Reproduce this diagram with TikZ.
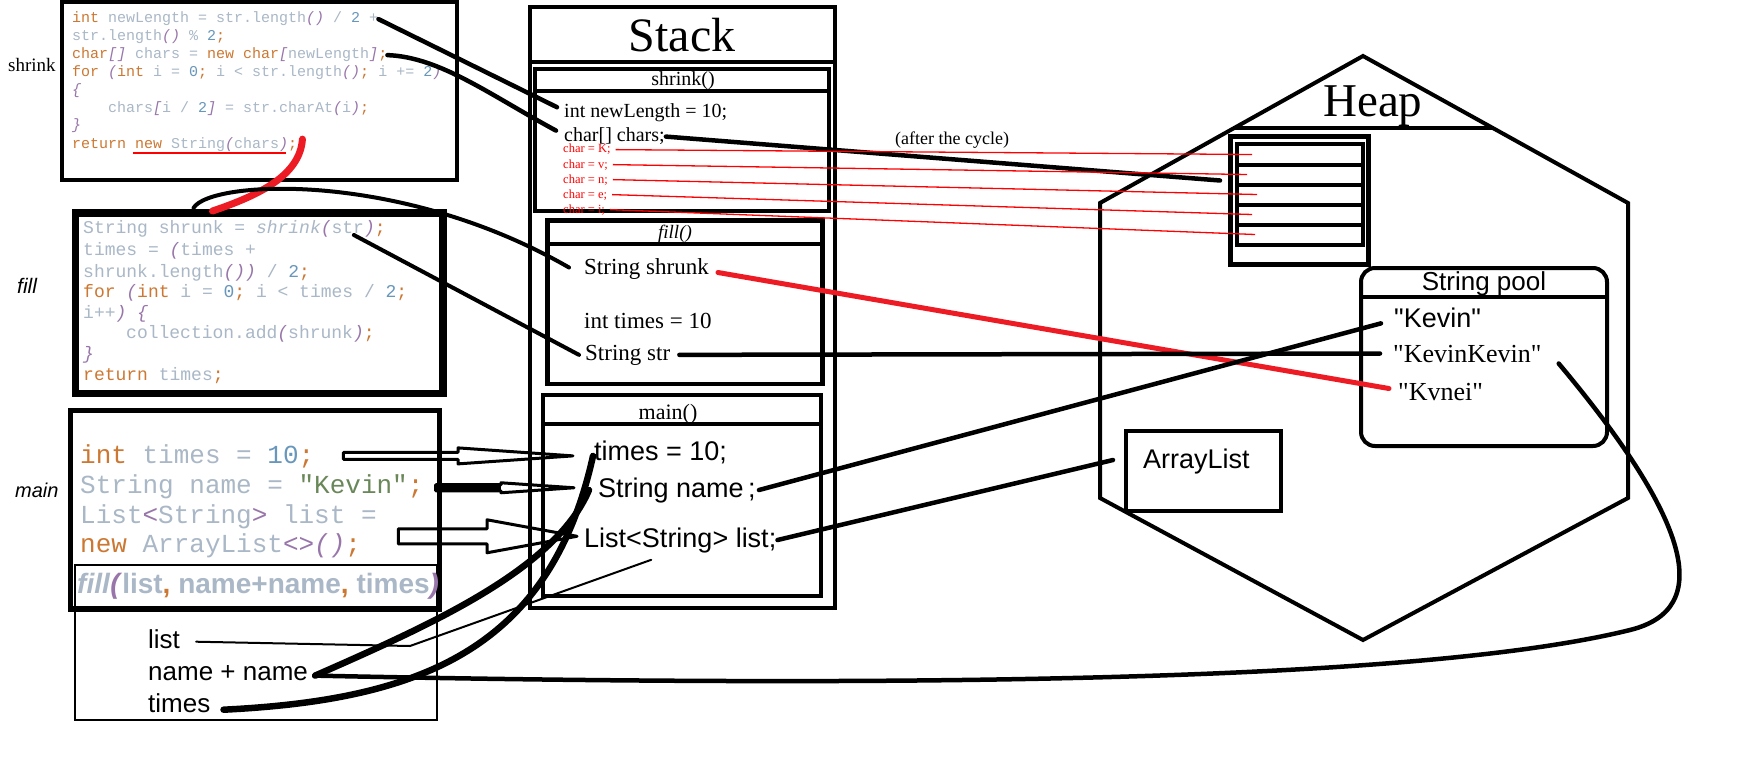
\documentclass[tikz,border=0pt]{standalone}
\usepackage{fontspec}
\setmainfont{Liberation Serif}
\setsansfont{Liberation Sans}
\setmonofont{Liberation Mono}
\usetikzlibrary{calc}

\definecolor{kwc}{HTML}{CC7832}
\definecolor{idc}{HTML}{A9B7C6}
\definecolor{nmc}{HTML}{6897BB}
\definecolor{stc}{HTML}{6A8759}
\definecolor{pac}{HTML}{9876AA}
\definecolor{paintred}{HTML}{ED1C24}

\newcommand\sz[1]{\fontsize{#1}{#1}\selectfont}
\newcommand\kw[1]{\textcolor{kwc}{#1}}
\newcommand\idf[1]{\textcolor{idc}{#1}}
\newcommand\nm[1]{\textcolor{nmc}{#1}}
\newcommand\stl[1]{\textcolor{stc}{#1}}
\newcommand\pa[1]{\textcolor{pac}{\textit{#1}}}
\newcommand\qt[1]{\textquotedbl#1\textquotedbl}

% start, tip, shaft half height, head half height, head length
\newcommand\hollowarrow[5]{%
  \coordinate (ht) at (#2 |- #1);
  \draw[hollowline] ($(#1)+(0,#3)$) -- ($(ht)+(-#5,#3)$) -- ($(ht)+(-#5,#4)$) -- (ht)
    -- ($(ht)+(-#5,-#4)$) -- ($(ht)+(-#5,-#3)$) -- ($(#1)+(0,-#3)$) -- cycle;}

\tikzset{
  box/.style={draw, outer sep=0pt, inner sep=0pt, anchor=north west},
  txt/.style={inner sep=1pt, anchor=base west},
  ctr/.style={inner sep=1pt, anchor=base},
  scode/.style={txt, inner sep=0pt, font=\ttfamily\sz{15}},
  fcode/.style={txt, inner sep=0pt, font=\ttfamily\sz{18}},
  mcode/.style={txt, inner sep=0pt, font=\ttfamily\sz{26}},
  link/.style={draw=black, line width=4.5pt, line cap=round},
  redlink/.style={draw=paintred, line width=5pt, line cap=round},
  thinred/.style={draw=red, line width=1.3pt},
  hollowline/.style={draw=black, line width=3pt, line join=round},
}

\begin{document}
\begin{tikzpicture}[x=1pt, y=-1pt]
  \useasboundingbox (0,0) rectangle (1748,757);
  \fill[white] (0,0) rectangle (1748,757);

  % code of shrink
  \node[box, line width=4pt, minimum width=395pt, minimum height=178pt] (shrinkbox) at (62,2) {};
  \node[txt, font=\rmfamily\sz{19}] (shrinklbl) at (7,72) {shrink};
  \node[scode] (s1) at (72,23) {\kw{int} \idf{newLength = str.length}\pa{()} \idf{/} \nm{2} \idf{+}};
  \node[scode] (s2) at (72,41) {\idf{str.length}\pa{()} \idf{\%} \nm{2}\kw{;}};
  \node[scode] (s3) at (72,59) {\kw{char}\pa{[]} \idf{chars =} \kw{new char}\pa{[}\idf{newLength}\pa{]}\kw{;}};
  \node[scode] (s4) at (72,77) {\kw{for} \pa{(}\kw{int} \idf{i =} \nm{0}\kw{;} \idf{i < str.length}\pa{()}\kw{;} \idf{i +=} \nm{2}\pa{)}};
  \node[scode] (s5) at (72,95) {\pa{\{}};
  \node[scode] (s6) at (108,113) {\idf{chars}\pa{[}\idf{i /} \nm{2}\pa{]} \idf{= str.charAt}\pa{(}\idf{i}\pa{)}\kw{;}};
  \node[scode] (s7) at (72,130) {\pa{\}}};
  \node[scode] (s8) at (72,149) {\kw{return new} \idf{String}\pa{(}\idf{chars}\pa{)}\kw{;}};

  % code of fill
  \node[box, line width=7.5pt, minimum width=367.5pt, minimum height=180.5pt] (fillbox) at (75.5,213) {};
  \node[txt, font=\sffamily\itshape\sz{21}] (filllbl) at (16,293) {fill};
  \node[fcode] (f1) at (83,233) {\idf{String shrunk =} \idf{\textit{shrink}}\pa{(}\idf{str}\pa{)}\kw{;}};
  \node[fcode] (f2) at (83,255) {\idf{times =} \pa{(}\idf{times +}};
  \node[fcode] (f3) at (83,277) {\idf{shrunk.length}\pa{())} \idf{/} \nm{2}\kw{;}};
  \node[fcode] (f4) at (83,297) {\kw{for} \pa{(}\kw{int} \idf{i =} \nm{0}\kw{;} \idf{i < times /} \nm{2}\kw{;}};
  \node[fcode] (f5) at (83,318) {\idf{i++}\pa{)} \pa{\{}};
  \node[fcode] (f6) at (126,338) {\idf{collection.add}\pa{(}\idf{shrunk}\pa{)}\kw{;}};
  \node[fcode] (f7) at (83,359) {\pa{\}}};
  \node[fcode] (f8) at (83,380) {\kw{return} \idf{times}\kw{;}};

  % code of main
  \node[box, line width=1.3pt, minimum width=362pt, minimum height=155pt] (callbox) at (75,565) {};
  \node[box, line width=5.5pt, minimum width=369pt, minimum height=198.5pt] (mainbox) at (70.5,410.5) {};
  \node[txt, font=\sffamily\itshape\sz{20}] (mainlbl) at (14,497) {main};
  \node[mcode] (m1) at (80,463) {\kw{int} \idf{times =} \nm{10}\kw{;}};
  \node[mcode] (m2) at (80,493) {\idf{String name =} \stl{"Kevin"}\kw{;}};
  \node[mcode] (m3) at (80,523) {\idf{List}\textcolor{pac}{<}\idf{String}\textcolor{pac}{>} \idf{list =}};
  \node[mcode] (m4) at (80,552) {\kw{new} \idf{ArrayList}\textcolor{pac}{<>}\pa{()}\kw{;}};
  \node[txt, inner sep=0pt, font=\sffamily\bfseries\sz{28}] (call) at (77,593)
    {\idf{\textit{fill}}\pa{(}\idf{list}\kw{,} \idf{name+name}\kw{,} \idf{times}\pa{)}};
  \node[txt, font=\sffamily\sz{26}] (llist) at (147,648) {list};
  \node[txt, font=\sffamily\sz{26}] (lname) at (147,680) {name + name};
  \node[txt, font=\sffamily\sz{26}] (ltimes) at (147,712) {times};

  % stack
  \node[box, line width=4pt, minimum width=305pt, minimum height=601pt] (stack) at (530,7) {};
  \draw[line width=4pt] ($(stack.north west)+(0,55)$) -- ($(stack.north east)+(0,55)$);
  \node[ctr, font=\rmfamily\sz{48}] (stacklbl) at (682,52) {Stack};

  \node[box, line width=4pt, minimum width=294pt, minimum height=142pt] (shrinkfr) at (535,69) {};
  \draw[line width=4pt] ($(shrinkfr.north west)+(0,22.5)$) -- ($(shrinkfr.north east)+(0,22.5)$);
  \node[ctr, font=\rmfamily\sz{20}] (shrinkhd) at (683,86) {shrink()};
  \node[txt, font=\rmfamily\sz{20}] (nlen) at (563,118) {int newLength = 10;};
  \node[txt, font=\rmfamily\sz{20}] (chars) at (563,142) {char[] chars;};
  \foreach \c [count=\i] in {K,v,n,e,i}
    \node[txt, text=red, font=\rmfamily\sz{12.5}] (ch\i) at (562,138+15*\i) {char = \c;};

  \node[box, line width=4.5pt, minimum width=275pt, minimum height=163.5pt] (fillfr) at (547.5,220.5) {};
  \draw[line width=4.5pt] ($(fillfr.north west)+(0,23.5)$) -- ($(fillfr.north east)+(0,23.5)$);
  \node[ctr, font=\rmfamily\itshape\sz{19}] (fillhd) at (675,238) {fill()};
  \node[txt, font=\rmfamily\sz{23}] (fshr) at (583,274) {String shrunk};
  \node[txt, font=\rmfamily\sz{23}] (ftimes) at (583,328) {int times = 10};
  \node[txt, font=\rmfamily\sz{23}] (fstr) at (584,360) {String str};

  \node[box, line width=4pt, minimum width=277.5pt, minimum height=201pt] (mainfr) at (543,395) {};
  \draw[line width=4pt] ($(mainfr.north west)+(0,28.5)$) -- ($(mainfr.north east)+(0,28.5)$);
  \node[ctr, font=\rmfamily\sz{22}] (mainhd) at (668,419) {main()};
  \node[txt, font=\sffamily\sz{27}] (mtimes) at (593,460) {times = 10;};
  \node[txt, font=\sffamily\sz{27}] (mname) at (597,497) {String name\,;};
  \node[txt, font=\sffamily\sz{27}] (mlist) at (583,547) {List<String> list;};

  % heap
  \draw[line width=4pt] (1363,56) -- (1628,203) -- (1628,498) -- (1363,640) -- (1100,498) -- (1100,203) -- cycle;
  \draw[line width=4pt] (1233,128) -- (1494,128);
  \node[txt, font=\rmfamily\sz{47}] (heaplbl) at (1322,117) {Heap};
  \node[txt, font=\rmfamily\sz{18}] (cyc) at (894,145) {(after the cycle)};

  \node[box, line width=5pt, minimum width=138pt, minimum height=127pt] (charbox) at (1230,137) {};
  \foreach \i in {1,...,5}
    \node[box, line width=4pt, minimum width=126pt, minimum height=20pt] (c\i) at (1237,124.5+20*\i) {};

  \node[box, line width=4pt, rounded corners=14pt, minimum width=246pt, minimum height=178pt] (pool) at (1361,268) {};
  \draw[line width=4pt] ($(pool.north west)+(0,29)$) -- ($(pool.north east)+(0,29)$);
  \node[ctr, font=\sffamily\sz{26}] (poollbl) at (1484,290) {String pool};
  \node[txt, font=\sffamily\sz{27}] (kevin) at (1393,327) {\qt{Kevin}};
  \node[txt, font=\rmfamily\sz{26}] (kk) at (1392,362) {\qt{KevinKevin}};
  \node[txt, font=\rmfamily\sz{26}] (kvnei) at (1397,400) {\qt{Kvnei}};

  \node[box, line width=4.5pt, minimum width=155pt, minimum height=80pt] (arrbox) at (1126,431) {};
  \node[txt, font=\sffamily\sz{27}] (arr) at (1142,468) {ArrayList};

  % shrink code to shrink()
  \draw[link] (s1.east) -- ($(nlen.west)+(-6,-6)$);
  \draw[link] (s3.east) .. controls (440,57) and (490,95) .. ($(chars.west)+(-7,-6)$);
  \draw[link] (chars.east) -- ($(c2.west)+(-17,6)$);
  \foreach \i/\dx in {1/15,2/10,3/20,4/15,5/18}
    \draw[thinred] ($(ch\i.east)+(4,0)$) -- ($(c\i.west)+(\dx,0)$);
  \draw[thinred] ($(s8.base west)+(61,4)$) -- ($(s8.base west)+(214,4)$);
  \draw[redlink, line width=7pt] ($(s8.east)+(5,-6)$) .. controls (300,175) and (260,195) .. ($(fillbox.north west)+(137,-2)$);

  % fill code to fill()
  \draw[link, line width=4pt] ($(fillbox.north west)+(118,-5)$) .. controls (210,180) and (400,170) .. ($(fshr.west)+(-14,-1)$);
  \draw[link, line width=4pt] ($(f1.base east)+(-32,2)$) -- ($(fstr.west)+(-5,0)$);

  % to the heap
  \draw[redlink] ($(fshr.east)+(8,4)$) -- ($(kvnei.west)+(-8,-3)$);
  \draw[link] ($(fstr.east)+(8,0)$) -- ($(kk.west)+(-12,0)$);
  \draw[link] ($(mname.east)+(2,0)$) -- ($(kevin.west)+(-12,6)$);
  \draw[link] (mlist.east) -- ($(arrbox.west)+(-13,-11)$);

  % main code to main()
  \coordinate (a1) at ($(m1.east)+(29,0)$);
  \coordinate (t1) at ($(mtimes.west)+(-20,0)$);
  \hollowarrow{a1}{t1}{3.5}{8}{115}
  \coordinate (a2) at ($(m2.east)+(12,1.5)$);
  \coordinate (t2) at ($(mname.west)+(-23,0)$);
  \hollowarrow{a2}{t2}{3}{5}{73}
  \draw[line width=9pt] (a2) -- ($(t2 |- a2)+(-73,0)$);
  \coordinate (a3) at ($(m4.east)+(37,-9)$);
  \coordinate (t3) at ($(mlist.west)+(-6,0)$);
  \hollowarrow{a3}{t3}{7.5}{16.5}{90}

  % arguments of the call
  \draw[link, line width=2pt] ($(llist.east)+(15,3)$) -- (410,646) -- ($(mlist.south)+(-29,6)$);
  \draw[link, line width=6.5pt] ($(ltimes.east)+(12,7)$) .. controls (420,700) and (550,650) .. ($(mtimes.west)+(0,4)$);
  \draw[link, line width=6.5pt] ($(lname.east)+(6,3)$) .. controls (430,625) and (555,570) .. ($(mname.west)+(-8,0)$);
  \draw[link] ($(lname.east)+(6,3)$) .. controls (900,688) and (1420,682) .. (1630,630)
    .. controls (1715,609) and (1690,520) .. ($(kk.east)+(16,10)$);

\end{tikzpicture}
\end{document}
